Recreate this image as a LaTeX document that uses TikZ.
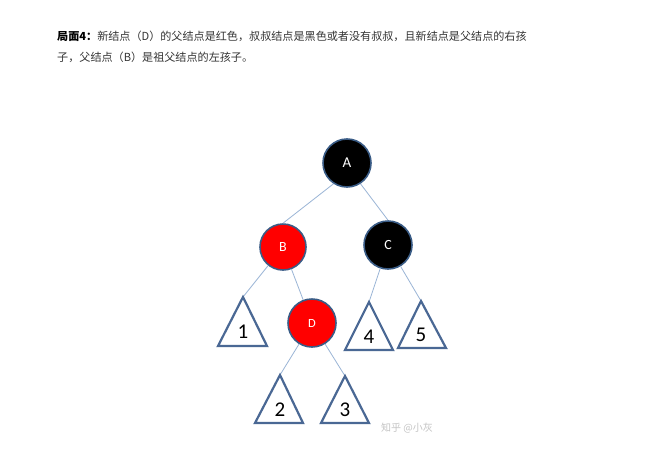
\documentclass[tikz,border=0pt]{standalone}
\usepackage{fontspec}
\setmainfont{Carlito}
\newfontfamily\cjk{Noto Sans CJK SC}
\begin{document}
\begin{tikzpicture}[x=1pt,y=-1pt,
  rbnode/.style={circle,draw=nodeedge,line width=1.6pt,minimum size=48pt,inner sep=0pt,text=white,font=\fontsize{14}{16}\selectfont},
  blk/.style={rbnode,fill=black},
  red/.style={rbnode,fill=red},
  link/.style={draw=linkblue,line width=0.8pt},
  tri/.style={draw=triblue,line width=2.2pt,line join=miter,fill=white},
  num/.style={font=\fontsize{21}{24}\selectfont,text=black,inner sep=0pt}]
\definecolor{nodeedge}{HTML}{3A5C86}
\definecolor{linkblue}{HTML}{9AB5D6}
\definecolor{triblue}{HTML}{4A6894}
\definecolor{txt}{HTML}{333333}
\definecolor{wm}{HTML}{C4C4C4}
\useasboundingbox[fill=white] (0,0) rectangle (650,455);
% header
\node[anchor=base west,inner sep=0pt,text=txt,font=\cjk\fontsize{11.1}{14}\selectfont] (h1) at (57,40.5)
  {{\bfseries\color{black}局面4：}新结点（D）的父结点是红色，叔叔结点是黑色或者没有叔叔，且新结点是父结点的右孩};
\node[anchor=base west,inner sep=0pt,text=txt,font=\cjk\fontsize{11.1}{14}\selectfont] (h2) at (57,61.5)
  {子，父结点（B）是祖父结点的左孩子。};
% triangle apexes
\coordinate (t1) at (243,297);
\coordinate (t4) at (369,302);
\coordinate (t5) at (421,301);
\coordinate (t2) at (280,375);
\coordinate (t3) at (345,376);
% nodes
\node[blk,font=\fontsize{15}{17}\selectfont] (A) at (347,163) {A};
\node[red,minimum size=46pt] (B) at (283,247) {B};
\node[blk] (C) at (388,245) {C};
\node[red,font=\fontsize{12.5}{14}\selectfont] (D) at (312,323) {D};
% links
\draw[link] (A.-123) -- (B.north);
\draw[link] (A.-57) -- (C.north);
\draw[link] (B) -- (t1);
\draw[link] (B) -- (D);
\draw[link] (C) -- (t4);
\draw[link] (C) -- (t5);
\draw[link] (D) -- (t2);
\draw[link] (D) -- (t3);
% triangles
\draw[tri] (t1) -- (218,346) -- (267,346) -- cycle;
\draw[tri] (t4) -- (345,350) -- (393,350) -- cycle;
\draw[tri] (t5) -- (398,348) -- (446,348) -- cycle;
\draw[tri] (t2) -- (255,423) -- (303,423) -- cycle;
\draw[tri] (t3) -- (321,423) -- (369,423) -- cycle;
\node[num] (n1) at (243,332) {1};
\node[num] (n4) at (369,337) {4};
\node[num] (n5) at (421,335) {5};
\node[num] (n2) at (280,410) {2};
\node[num] (n3) at (345,410) {3};
% watermark
\node[anchor=west,inner sep=0pt,text=wm,font=\cjk\fontsize{10}{12}\selectfont] (wmk) at (381,428) {知乎 @小灰};
\end{tikzpicture}
\end{document}
